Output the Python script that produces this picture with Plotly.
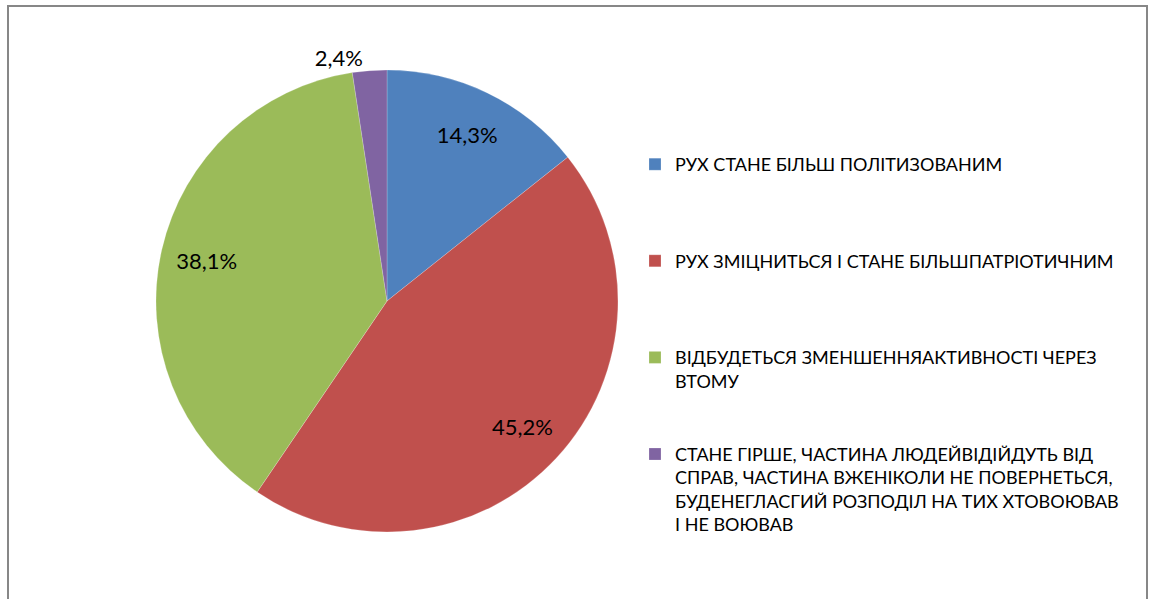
import plotly.graph_objects as go

categories = [
    "РУХ СТАНЕ БІЛЬШ ПОЛІТИЗОВАНИМ",
    "РУХ ЗМІЦНИТЬСЯ І СТАНЕ БІЛЬШПАТРІОТИЧНИМ",
    "ВІДБУДЕТЬСЯ ЗМЕНШЕННЯАКТИВНОСТІ ЧЕРЕЗ<br>ВТОМУ",
    "СТАНЕ ГІРШЕ, ЧАСТИНА ЛЮДЕЙВІДІЙДУТЬ ВІД<br>СПРАВ, ЧАСТИНА ВЖЕНІКОЛИ НЕ ПОВЕРНЕТЬСЯ,<br>БУДЕНЕГЛАСГИЙ РОЗПОДІЛ НА ТИХ ХТОВОЮВАВ<br>І НЕ ВОЮВАВ",
]
values = [14.3, 45.2, 38.1, 2.4]
value_labels = ["14,3%", "45,2%", "38,1%", "2,4%"]
colors = ["#4F81BD", "#C0504D", "#9BBB59", "#8064A2"]
pad_lines = [3, 3, 2, 0]

W, H = 1149, 599
cx, cy, r = 387, 301, 231
dom = dict(x=[(cx - r) / W, (cx + r) / W], y=[(H - cy - r) / H, (H - cy + r) / H])
FONT = "Lato, Open Sans, sans-serif"

legend_labels = [c + "<br> " * p for c, p in zip(categories, pad_lines)]

fig = go.Figure()
# coloured pie with legend
fig.add_trace(go.Pie(
    labels=legend_labels,
    values=values,
    textinfo="none",
    marker=dict(colors=colors, line=dict(color="rgba(255,255,255,0.4)", width=0.5)),
    sort=False,
    direction="clockwise",
    rotation=0,
    domain=dom,
    showlegend=True,
    hoverinfo="skip",
))
# transparent ring carrying the data labels (places them at ~0.8 of the radius)
fig.add_trace(go.Pie(
    labels=legend_labels,
    values=values,
    text=value_labels,
    textinfo="text",
    textposition=["inside", "inside", "inside", "outside"],
    insidetextorientation="horizontal",
    textfont=dict(family=FONT, size=22, color="#000000"),
    outsidetextfont=dict(family=FONT, size=22, color="#000000"),
    marker=dict(colors=["rgba(0,0,0,0)"] * len(values), line=dict(width=0)),
    hole=0.6,
    sort=False,
    direction="clockwise",
    rotation=0,
    domain=dom,
    showlegend=False,
    hoverinfo="skip",
))

fig.add_shape(type="rect", xref="paper", yref="paper",
              x0=8 / W, x1=1147 / W, y0=-0.05, y1=1 - 6 / H,
              line=dict(color="#878787", width=2), fillcolor="rgba(0,0,0,0)")

fig.update_layout(
    width=W, height=H,
    margin=dict(l=0, r=0, t=0, b=0),
    paper_bgcolor="#FFFFFF",
    plot_bgcolor="#FFFFFF",
    font=dict(family=FONT, color="#000000"),
    legend=dict(
        x=635 / W, y=1 - 146 / H, xanchor="left", yanchor="top",
        valign="top",
        font=dict(family=FONT, size=18, color="#000000"),
        itemwidth=30,
        bgcolor="rgba(0,0,0,0)",
    ),
)

fig.write_html("out.html", config={"displayModeBar": False},
               post_script="document.body.style.margin='0';")
